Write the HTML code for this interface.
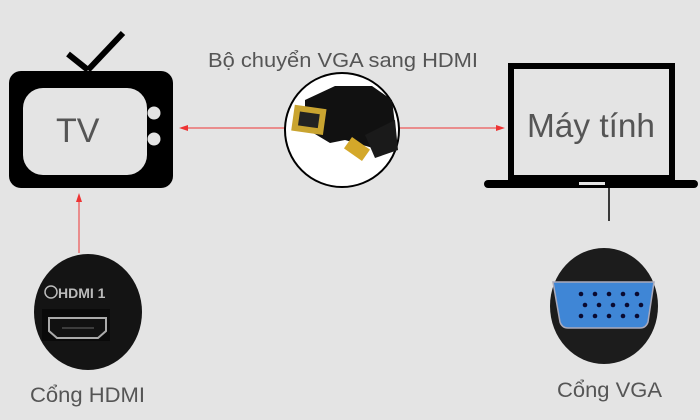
<!DOCTYPE html>
<html><head><meta charset="utf-8"><style>
html,body{margin:0;padding:0;background:#e4e4e4;}
svg{display:block}
text{font-family:"Liberation Sans",sans-serif;fill:#555}
</style></head><body>
<svg width="700" height="420" viewBox="0 0 700 420" xmlns="http://www.w3.org/2000/svg">
<rect width="700" height="420" fill="#e4e4e4"/>
<!-- TV -->
<line x1="68" y1="54" x2="88" y2="70" stroke="#000" stroke-width="6"/>
<line x1="88" y1="70" x2="123" y2="33" stroke="#000" stroke-width="6"/>
<rect x="9" y="71" width="164" height="117" rx="12" fill="#000"/>
<rect x="23" y="88" width="124" height="87" rx="20" fill="#e4e4e4"/>
<circle cx="154" cy="113" r="6.5" fill="#e4e4e4"/>
<circle cx="154" cy="139" r="6.5" fill="#e4e4e4"/>
<text x="56" y="142" font-size="34">TV</text>
<!-- label -->
<text x="208" y="67" font-size="20" textLength="270" lengthAdjust="spacingAndGlyphs">Bộ chuyển VGA sang HDMI</text>
<!-- arrows -->
<line x1="186" y1="128" x2="286" y2="128" stroke="#e33" stroke-width="1"/>
<polygon points="179,128 188,125 188,131" fill="#e33"/>
<line x1="399" y1="128" x2="496" y2="128" stroke="#e33" stroke-width="1"/>
<polygon points="505,128 496,125 496,131" fill="#e33"/>
<line x1="79" y1="201" x2="79" y2="253" stroke="#e33" stroke-width="1"/>
<polygon points="79,193 76,202 82,202" fill="#e33"/>
<!-- adapter circle -->
<circle cx="342" cy="130" r="57" fill="#fff" stroke="#000" stroke-width="2"/>
<path d="M305 100 L335 86 L372 86 L392 100 L396 132 L380 150 L345 140 L330 143 L305 128 Z" fill="#111"/>
<rect x="293" y="107" width="32" height="26" fill="#c9a430" transform="rotate(8 310 119)"/>
<rect x="299" y="113" width="20" height="14" fill="#222" transform="rotate(8 310 119)"/>
<rect x="346" y="142" width="22" height="14" fill="#d4a82a" transform="rotate(35 357 149)"/>
<path d="M365 135 L395 120 L398 150 L375 158 Z" fill="#1a1a1a"/>
<!-- laptop -->
<rect x="511" y="66" width="161" height="112" fill="none" stroke="#000" stroke-width="6"/>
<rect x="484" y="180" width="214" height="8" rx="4" fill="#000"/>
<rect x="579" y="182" width="26" height="3" fill="#e4e4e4"/>
<line x1="609" y1="188" x2="609" y2="221" stroke="#000" stroke-width="1.5"/>
<text x="527" y="137" font-size="33" textLength="128" lengthAdjust="spacingAndGlyphs">Máy tính</text>
<!-- HDMI port -->
<ellipse cx="88" cy="312" rx="54" ry="58" fill="#141414"/>
<text x="58" y="298" font-size="14" font-weight="bold" style="fill:#bbb">HDMI 1</text>
<circle cx="51" cy="292" r="6" fill="none" stroke="#bbb" stroke-width="1.5"/>
<rect x="42" y="309" width="68" height="32" fill="#0a0a0a"/>
<path d="M49 318 L106 318 L106 331 L98 338 L57 338 L49 331 Z" fill="#111" stroke="#aaa" stroke-width="2"/>
<line x1="62" y1="328" x2="94" y2="328" stroke="#666" stroke-width="1"/>
<text x="30" y="402" font-size="21" textLength="115" lengthAdjust="spacingAndGlyphs">Cổng HDMI</text>
<!-- VGA port -->
<ellipse cx="604" cy="306" rx="54" ry="58" fill="#1c1c1c"/>
<path d="M553 282 L654 282 L648 322 Q646 328 640 328 L568 328 Q562 328 560 322 Z" fill="#3f86d6" stroke="#aab" stroke-width="1.5"/>
<g fill="#0a0a30">
<circle cx="581" cy="294" r="2.3"/><circle cx="595" cy="294" r="2.3"/><circle cx="609" cy="294" r="2.3"/><circle cx="623" cy="294" r="2.3"/><circle cx="637" cy="294" r="2.3"/>
<circle cx="585" cy="305" r="2.3"/><circle cx="599" cy="305" r="2.3"/><circle cx="613" cy="305" r="2.3"/><circle cx="627" cy="305" r="2.3"/><circle cx="641" cy="305" r="2.3"/>
<circle cx="581" cy="316" r="2.3"/><circle cx="595" cy="316" r="2.3"/><circle cx="609" cy="316" r="2.3"/><circle cx="623" cy="316" r="2.3"/><circle cx="637" cy="316" r="2.3"/>
</g>
<text x="557" y="397" font-size="21" textLength="105" lengthAdjust="spacingAndGlyphs">Cổng VGA</text>
</svg>
</body></html>
